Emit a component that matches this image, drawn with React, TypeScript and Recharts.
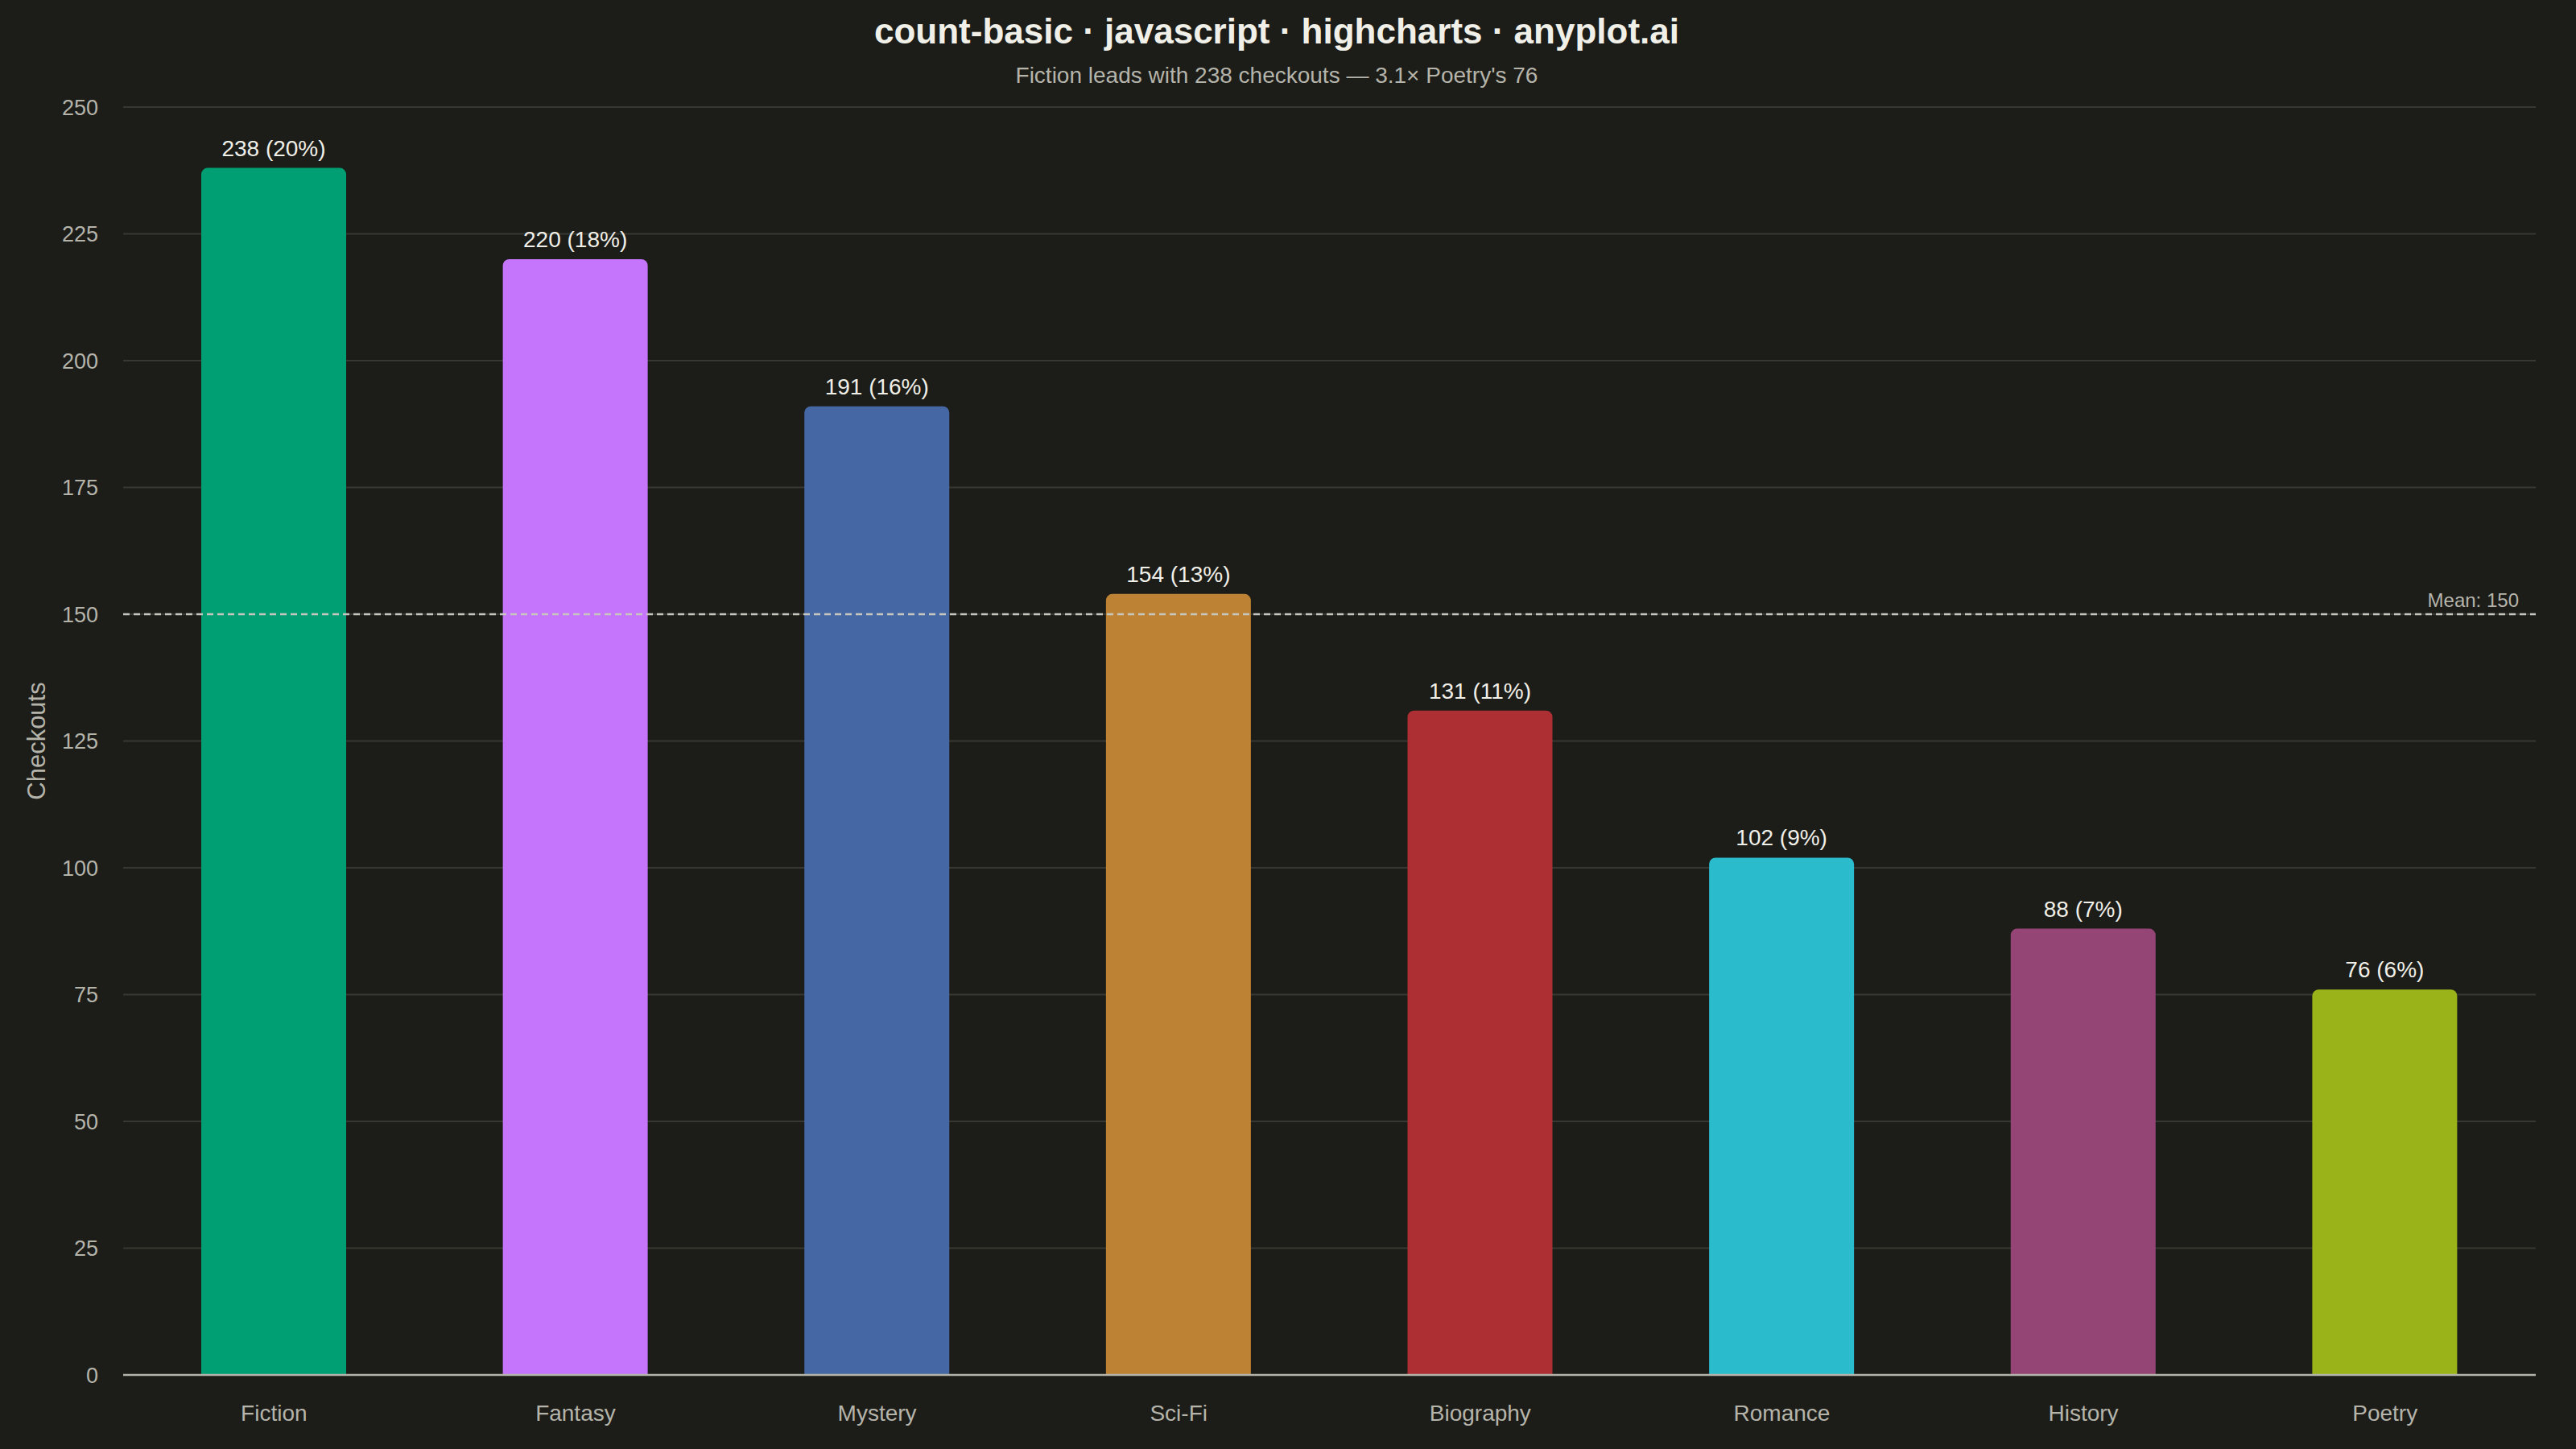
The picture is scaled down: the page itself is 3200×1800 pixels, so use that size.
import {
  BarChart,
  Bar,
  XAxis,
  YAxis,
  CartesianGrid,
  ReferenceLine,
  LabelList,
  Cell,
} from "recharts";

const GENRES = ["Fiction", "Fantasy", "Mystery", "Sci-Fi", "Biography", "Romance", "History", "Poetry"];
const CHECKOUTS = [238, 220, 191, 154, 131, 102, 88, 76];
const BAR_COLORS = ["#009E73", "#C475FC", "#4568A5", "#BE8234", "#AE2F33", "#2ABBCD", "#944576", "#9AB318"];
const Y_TICKS = [0, 25, 50, 75, 100, 125, 150, 175, 200, 225, 250];

const TOTAL = CHECKOUTS.reduce((a, b) => a + b, 0);
const MEAN = TOTAL / CHECKOUTS.length;

const FONT = "'Liberation Sans', Arial, Helvetica, sans-serif";
const BG = "#1c1c18";
const INK = "#f0efe8";
const MUTED = "#b5b4ab";

const data = GENRES.map((genre, i) => ({ genre, checkouts: CHECKOUTS[i] }));

const pct = (v: number) => `${v} (${Math.round((v / TOTAL) * 100)}%)`;

function MeanLabel(props: any) {
  const { viewBox } = props;
  if (!viewBox) return null;
  return (
    <text
      x={viewBox.x + viewBox.width - 21}
      y={viewBox.y - 9}
      textAnchor="end"
      fill={MUTED}
      fontSize={24}
      fontFamily={FONT}
    >
      {`Mean: ${Math.round(MEAN)}`}
    </text>
  );
}

function AxisTitle(props: any) {
  const { viewBox } = props;
  if (!viewBox) return null;
  const cy = viewBox.y + viewBox.height / 2;
  return (
    <text
      x={45}
      y={cy}
      transform={`rotate(-90, 45, ${cy})`}
      textAnchor="middle"
      dominantBaseline="central"
      fill={MUTED}
      fontSize={31}
      fontFamily={FONT}
    >
      Checkouts
    </text>
  );
}

export default function App() {
  return (
    <div style={{ position: "relative", width: 3200, height: 1800, background: BG, fontFamily: FONT }}>
      <style>{"body{margin:0;background:" + BG + "}"}</style>
      <BarChart width={3200} height={1800} data={data} margin={{ top: 133, right: 50, left: 0, bottom: 0 }}>
        <CartesianGrid vertical={false} stroke="#383833" strokeWidth={2} />
        <XAxis
          dataKey="genre"
          interval={0}
          height={92}
          tickLine={false}
          tickSize={0}
          tickMargin={37}
          axisLine={{ stroke: MUTED, strokeWidth: 2.5 }}
          tick={{ fill: MUTED, fontSize: 28, fontFamily: FONT }}
        />
        <YAxis
          domain={[0, 250]}
          ticks={Y_TICKS}
          width={153}
          axisLine={false}
          tickLine={false}
          tickSize={0}
          tickMargin={31}
          tick={{ fill: MUTED, fontSize: 27, fontFamily: FONT }}
          label={AxisTitle}
        />
        <Bar dataKey="checkouts" barSize={180} radius={[8, 8, 0, 0]} isAnimationActive={false}>
          {data.map((d, i) => (
            <Cell key={d.genre} fill={BAR_COLORS[i]} />
          ))}
          <LabelList
            dataKey="checkouts"
            position="top"
            offset={15}
            formatter={(v: any) => pct(Number(v))}
            fill={INK}
            fontSize={28}
            fontFamily={FONT}
          />
        </Bar>
        <ReferenceLine
          y={MEAN}
          stroke="#c8c7bf"
          strokeWidth={2.5}
          strokeDasharray="8 5"
          label={MeanLabel}
        />
      </BarChart>
      <svg
        width={3200}
        height={130}
        style={{ position: "absolute", left: 0, top: 0, pointerEvents: "none" }}
      >
        <text x={1586} y={54} textAnchor="middle" fill={INK} fontSize={44} fontWeight="bold" fontFamily={FONT}>
          count-basic · javascript · highcharts · anyplot.ai
        </text>
        <text x={1586} y={103} textAnchor="middle" fill={MUTED} fontSize={28} fontFamily={FONT}>
          Fiction leads with 238 checkouts — 3.1× Poetry's 76
        </text>
      </svg>
    </div>
  );
}
